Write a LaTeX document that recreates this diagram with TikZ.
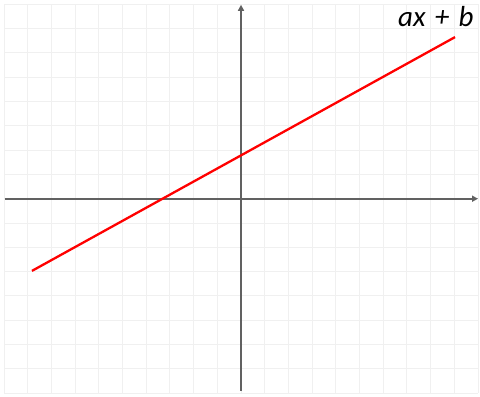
\documentclass[tikz,border=0pt]{standalone}
\usepackage{fontspec}
\newfontfamily\labelfont{Carlito}
\usetikzlibrary{arrows.meta}
\tikzset{
  gridline/.style={draw=black!6, line width=1pt},
  axisline/.style={draw=black!62, line width=1.8pt, -{Triangle[length=6pt,width=6pt]}},
  graphline/.style={draw=red, line width=2.3pt},
  funclabel/.style={font=\labelfont\itshape\fontsize{29}{30}\selectfont, anchor=base west, inner sep=0pt}
}
\begin{document}
\begin{tikzpicture}[x=23.7pt,y=24.3pt]
\path[use as bounding box] (-10.169,-8.160) rectangle (10.084,8.177);
\draw[gridline, step={(1,1)}] (-10,-8) grid (10,8);
\coordinate (xs) at (-9.97,0);
\coordinate (xe) at (10.0,0);
\coordinate (ys) at (0,-7.9);
\coordinate (ye) at (0,7.98);
\draw[axisline] (xs) -- (xe);
\draw[axisline] (ys) -- (ye);
\coordinate (ls) at (-8.82,-2.97);
\coordinate (le) at (9.03,6.65);
\draw[graphline] (ls) -- (le);
\node[funclabel] (lbl) at (6.62,7.107) {ax\hspace{0.32em}+\hspace{0.32em}b};
\end{tikzpicture}
\end{document}
